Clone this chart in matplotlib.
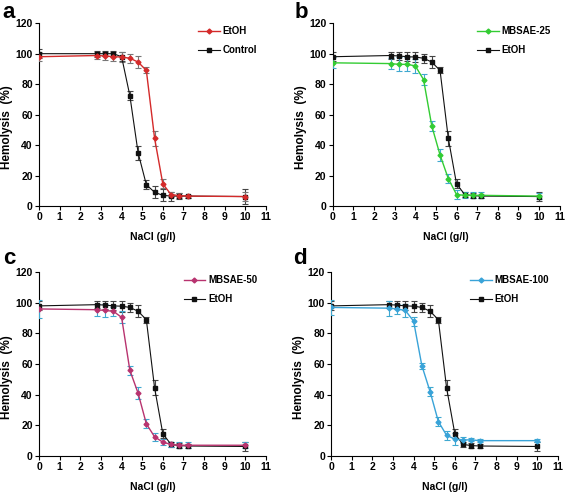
import numpy as np
import matplotlib
matplotlib.use("Agg")
import matplotlib.pyplot as plt

plt.rcParams['font.family'] = ['Liberation Sans', 'DejaVu Sans']
plt.rcParams['font.weight'] = 'bold'

nacl = [0, 2.8, 3.2, 3.6, 4.0, 4.4, 4.8, 5.2, 5.6, 6.0, 6.4, 6.8, 7.2, 10]

control = [100, 100, 100, 100, 98, 72.5, 35, 14, 9, 7, 6.5, 6.5, 6.5, 6.2]
control_err = [3, 2, 1.5, 2, 3, 3, 4.5, 3, 4, 4, 3, 2, 1, 5]

etoh = [98, 98.8, 98.5, 98, 97.8, 97, 94.5, 89, 44.5, 14.5, 7.5, 6.8, 6.5, 6.2]
etoh_err = [3, 2.5, 2.5, 3, 3.5, 3, 4, 2, 5, 3, 1.5, 1.5, 1, 3]

mbsae25 = [94, 93.5, 93, 93, 92, 83, 52.5, 33.5, 18, 7.5, 7, 7, 7, 6.5]
mbsae25_err = [3.5, 3.5, 4.5, 4.5, 4.5, 3.5, 3.5, 4, 3, 3, 2, 2, 2, 2]

mbsae50 = [96, 95.5, 95, 94.5, 90.5, 56, 41, 21, 12.5, 9, 7.5, 7, 7, 7]
mbsae50_err = [6, 4, 4, 3, 4, 3, 4, 3, 2.5, 2, 1.5, 2, 2, 2]

mbsae100 = [97, 96.5, 96, 95, 88, 59, 42, 22.5, 13.5, 11, 10.5, 10.5, 10, 10]
mbsae100_err = [5, 5, 3, 4, 3, 2, 3, 3, 3, 4, 2, 1, 1, 1]

fig = plt.figure(figsize=(5.67, 4.94), dpi=100)

panels = [
    ("a", [0.069, 0.583, 0.400, 0.370], (0.005, 0.995),
     ("EtOH", etoh, etoh_err, "#d42a2a", "#777777"), ("Control", control, control_err)),
    ("b", [0.587, 0.583, 0.400, 0.370], (0.520, 0.995),
     ("MBSAE-25", mbsae25, mbsae25_err, "#33cc33", "#3fa8d0"), ("EtOH", etoh, etoh_err)),
    ("c", [0.069, 0.077, 0.400, 0.372], (0.005, 0.497),
     ("MBSAE-50", mbsae50, mbsae50_err, "#b8336f", "#3fa8d0"), ("EtOH", etoh, etoh_err)),
    ("d", [0.584, 0.077, 0.400, 0.372], (0.517, 0.497),
     ("MBSAE-100", mbsae100, mbsae100_err, "#39a3d8", "#3fa8d0"), ("EtOH", etoh, etoh_err)),
]

for letter, pos, lpos, treat, ref in panels:
    ax = fig.add_axes(pos)
    name, vals, errs, col, ecol = treat
    rname, rvals, rerrs = ref
    # error bars first, then lines with markers on top
    ax.errorbar(nacl, rvals, yerr=rerrs, fmt='none', ecolor='#444444', elinewidth=0.8,
                capsize=2, capthick=0.8, zorder=2)
    ax.errorbar(nacl, vals, yerr=errs, fmt='none', ecolor=ecol, elinewidth=0.8,
                capsize=2, capthick=0.8, zorder=3)
    h1, = ax.plot(nacl, vals, color=col, marker='D', markersize=2.5, lw=1.0, zorder=4)
    h2, = ax.plot(nacl, rvals, color='#111111', marker='s', markersize=3.5, lw=0.8, zorder=3)
    ax.set_xlim(0, 11)
    ax.set_ylim(0, 120)
    ax.set_xticks(range(0, 12))
    ax.set_yticks(range(0, 121, 20))
    ax.spines['top'].set_visible(False)
    ax.spines['right'].set_visible(False)
    ax.tick_params(labelsize=7.5, length=3, width=0.8, pad=1.5)
    for lab in ax.get_xticklabels() + ax.get_yticklabels():
        lab.set_fontweight('bold')
    ax.set_xlabel("NaCl (g/l)", fontsize=7.5, fontweight='bold', labelpad=7)
    ax.set_ylabel("Hemolysis  (%)", fontsize=8.5, fontweight='bold')
    ax.yaxis.set_label_coords(-0.115, 0.43)
    leg = ax.legend([h1, h2], [name, rname], loc='upper right', frameon=False, fontsize=7,
                    handlelength=2.2, handletextpad=0.3, labelspacing=0.9,
                    bbox_to_anchor=(1.0, 1.03))
    for t in leg.get_texts():
        t.set_fontweight('bold')
    fig.text(lpos[0], lpos[1], letter, fontsize=16, fontweight='bold',
             ha='left', va='top')

fig.savefig("out.png", dpi=100)
